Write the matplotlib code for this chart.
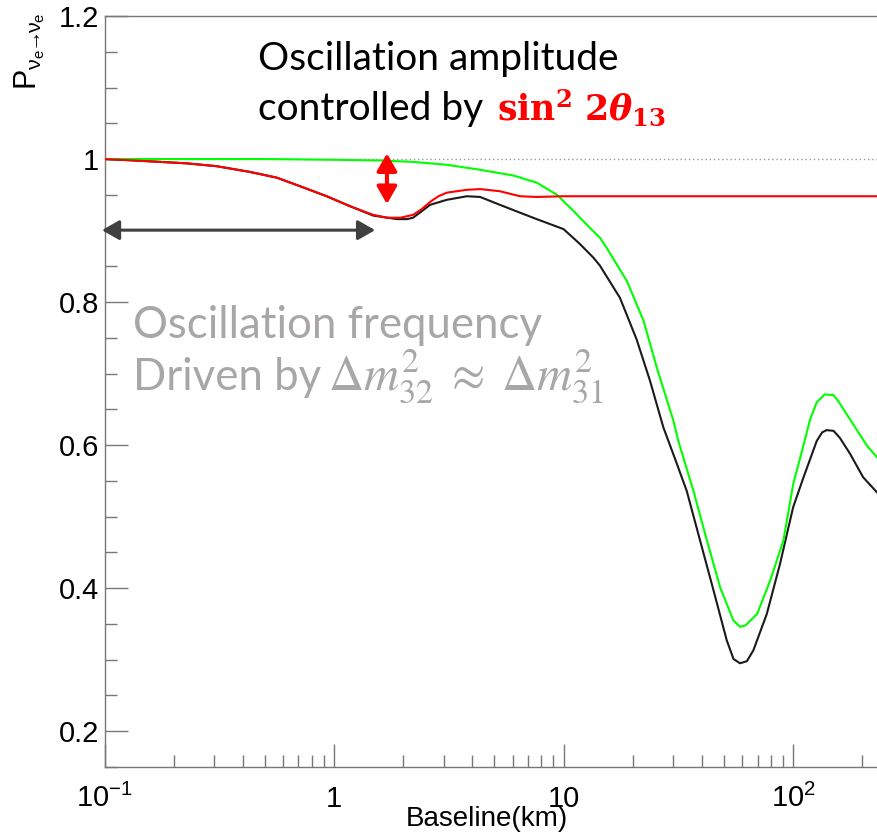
import matplotlib
matplotlib.use("Agg")
import matplotlib.pyplot as plt
from matplotlib.ticker import FixedLocator, FixedFormatter, LogLocator, MultipleLocator, NullFormatter

W, H = 877, 834

# survival probability vs baseline (km)
red_km = [0.1, 0.135, 0.175, 0.228, 0.308, 0.43, 0.563, 0.711, 0.929, 1.175, 1.48, 1.70,
          1.95, 2.21, 2.41, 2.62, 2.85, 3.10, 3.79, 4.33, 5.28, 6.46, 7.64, 10.0, 232]
red_p = [1.0, 0.998, 0.996, 0.994, 0.990, 0.982, 0.974, 0.962, 0.948, 0.934, 0.922, 0.918,
         0.918, 0.922, 0.930, 0.940, 0.948, 0.953, 0.957, 0.958, 0.955, 0.948, 0.947, 0.948, 0.948]

black_km = [0.1, 0.135, 0.175, 0.228, 0.308, 0.43, 0.563, 0.711, 0.929, 1.175, 1.48, 1.88,
            2.08, 2.21, 2.41, 2.62, 3.10, 3.79, 4.33, 5.28, 6.46, 7.64, 10.0, 11.0, 11.8, 13.5,
            14.4, 17.6, 20.8, 23.8, 27.2, 30.5, 34.4, 39.3, 45.0, 51.4, 55.0, 58.7, 62.9, 67.1,
            76.8, 87.7, 100, 111, 126.8, 134, 140, 150, 160, 177, 202, 232]
black_p = [1.0, 0.998, 0.996, 0.994, 0.990, 0.982, 0.974, 0.962, 0.948, 0.934, 0.921, 0.916,
           0.916, 0.918, 0.927, 0.936, 0.943, 0.948, 0.947, 0.936, 0.925, 0.916, 0.902, 0.890,
           0.881, 0.862, 0.851, 0.806, 0.748, 0.690, 0.625, 0.582, 0.536, 0.467, 0.397, 0.327,
           0.301, 0.295, 0.298, 0.313, 0.364, 0.434, 0.513, 0.555, 0.606, 0.618, 0.621, 0.620,
           0.610, 0.588, 0.555, 0.534]

green_km = [0.1, 0.5, 1.0, 1.585, 2.21, 3.10, 4.33, 6.04, 7.64, 9.36, 11.0, 13.0, 14.4, 15.4,
            18.9, 22.3, 25.5, 30.1, 31.6, 36.8, 42.1, 48.1, 54.9, 58.7, 62.0, 69.7, 79.5,
            90.8, 100, 111, 118.6, 126.8, 137.3, 150, 157, 177, 210, 232]
green_p = [1.0, 1.0, 0.999, 0.998, 0.996, 0.992, 0.985, 0.977, 0.967, 0.950, 0.928, 0.904,
           0.890, 0.876, 0.829, 0.774, 0.708, 0.634, 0.606, 0.536, 0.467, 0.401, 0.355, 0.346,
           0.348, 0.364, 0.411, 0.467, 0.545, 0.600, 0.636, 0.660, 0.671, 0.670, 0.662, 0.636,
           0.599, 0.583]

xtick_vals = [0.1, 1, 10, 100]
xtick_labels = [r"$10^{-1}$", "1", "10", r"$10^{2}$"]
ytick_vals = [0.2, 0.4, 0.6, 0.8, 1.0, 1.2]
ytick_labels = ["0.2", "0.4", "0.6", "0.8", "1", "1.2"]

plt.rcParams["font.family"] = ["Liberation Sans", "DejaVu Sans"]
plt.rcParams["mathtext.fontset"] = "custom"
plt.rcParams["mathtext.rm"] = "Liberation Sans"
plt.rcParams["mathtext.it"] = "Liberation Sans:italic"
plt.rcParams["mathtext.bf"] = "Liberation Sans:bold"

AXC = "#777777"
fig = plt.figure(figsize=(W / 100, H / 100), dpi=100)
ax = fig.add_axes([104.5 / W, 1 - 767 / H, (W - 104.5) / W, 751 / H])
ax.set_xscale("log")
ax.set_xlim(0.1, 232)
ax.set_ylim(0.15, 1.2)

ax.axhline(1.0, color="#999999", lw=1.0, ls=(0, (1, 2)), zorder=1)
ax.plot(black_km, black_p, color="#1a1a1a", lw=1.5, zorder=2)
ax.plot(green_km, green_p, color="#00ff00", lw=1.5, zorder=3)
ax.plot(red_km, red_p, color="#ff0000", lw=1.5, zorder=4)

for s in ["left", "bottom", "top"]:
    ax.spines[s].set_color(AXC)
    ax.spines[s].set_linewidth(1.0)
ax.spines["right"].set_visible(False)

ax.xaxis.set_major_locator(FixedLocator(xtick_vals))
ax.xaxis.set_major_formatter(FixedFormatter(xtick_labels))
ax.xaxis.set_minor_locator(LogLocator(base=10, subs=range(2, 10), numticks=20))
ax.xaxis.set_minor_formatter(NullFormatter())
ax.yaxis.set_major_locator(FixedLocator(ytick_vals))
ax.yaxis.set_major_formatter(FixedFormatter(ytick_labels))
ax.yaxis.set_minor_locator(MultipleLocator(0.05))

ax.tick_params(which="both", direction="in", color=AXC, width=1.0, top=False, right=False,
               labelsize=21, labelcolor="black")
ax.tick_params(which="major", length=16.5)
ax.tick_params(which="minor", length=8.6)
ax.tick_params(axis="y", pad=4)
ax.tick_params(axis="x", pad=29)
for t in ax.xaxis.get_major_ticks():
    t.label1.set_va("baseline")

ax.set_xlabel("Baseline(km)", fontsize=20, va="baseline")
ax.xaxis.set_label_coords((487 - 104.5) / (W - 104.5), -(826 - 767) / 751)
ax.set_ylabel(r"P$_{\mathrm{\nu_{e}\!\!\rightarrow\!\!\nu_{e}}}$", fontsize=22,
              ha="right", va="center", rotation=90, rotation_mode="anchor")
ax.yaxis.set_label_coords((30 - 104.5) / (W - 104.5), (767 - 12) / 751)

# annotations
fig.text(258 / W, 1 - 70 / H, "Oscillation amplitude", family="Lato", fontsize=28,
         color="black", va="baseline")
fig.text(258 / W, 1 - 120 / H, "controlled by", family="Lato", fontsize=28,
         color="black", va="baseline")
fig.text(497 / W, 1 - 120 / H,
         r"$\mathbf{sin}^{\mathbf{2}}\ \mathbf{2}\mathbfit{\theta}_{\mathbf{13}}$",
         math_fontfamily="dejavuserif", fontsize=25, color="#ff0000", va="baseline")

GRAY = "#a8a6a6"
fig.text(133 / W, 1 - 338 / H, "Oscillation frequency", family="Lato", fontsize=31.5,
         color=GRAY, va="baseline")
fig.text(133 / W, 1 - 390 / H, "Driven by", family="Lato", fontsize=31.5,
         color=GRAY, va="baseline")
fig.text(328 / W, 1 - 390 / H, r"$\Delta m^{2}_{32}\;\approx\;\Delta m^{2}_{31}$",
         math_fontfamily="stix", fontsize=35, color=GRAY, va="baseline")

ax.annotate("", xy=(1.70, 1.008), xytext=(1.70, 0.937),
            arrowprops=dict(arrowstyle="<|-|>,head_length=0.7,head_width=0.4",
                            color="#ff0000", lw=2.9, mutation_scale=15,
                            shrinkA=0, shrinkB=0),
            annotation_clip=False, zorder=6)
ax.annotate("", xy=(0.0975, 0.9006), xytext=(1.51, 0.9006),
            arrowprops=dict(arrowstyle="<|-|>,head_length=0.7,head_width=0.4",
                            color="#404040", lw=2.2, mutation_scale=15,
                            shrinkA=0, shrinkB=0),
            annotation_clip=False, zorder=6)

fig.savefig("out.png", dpi=100)
